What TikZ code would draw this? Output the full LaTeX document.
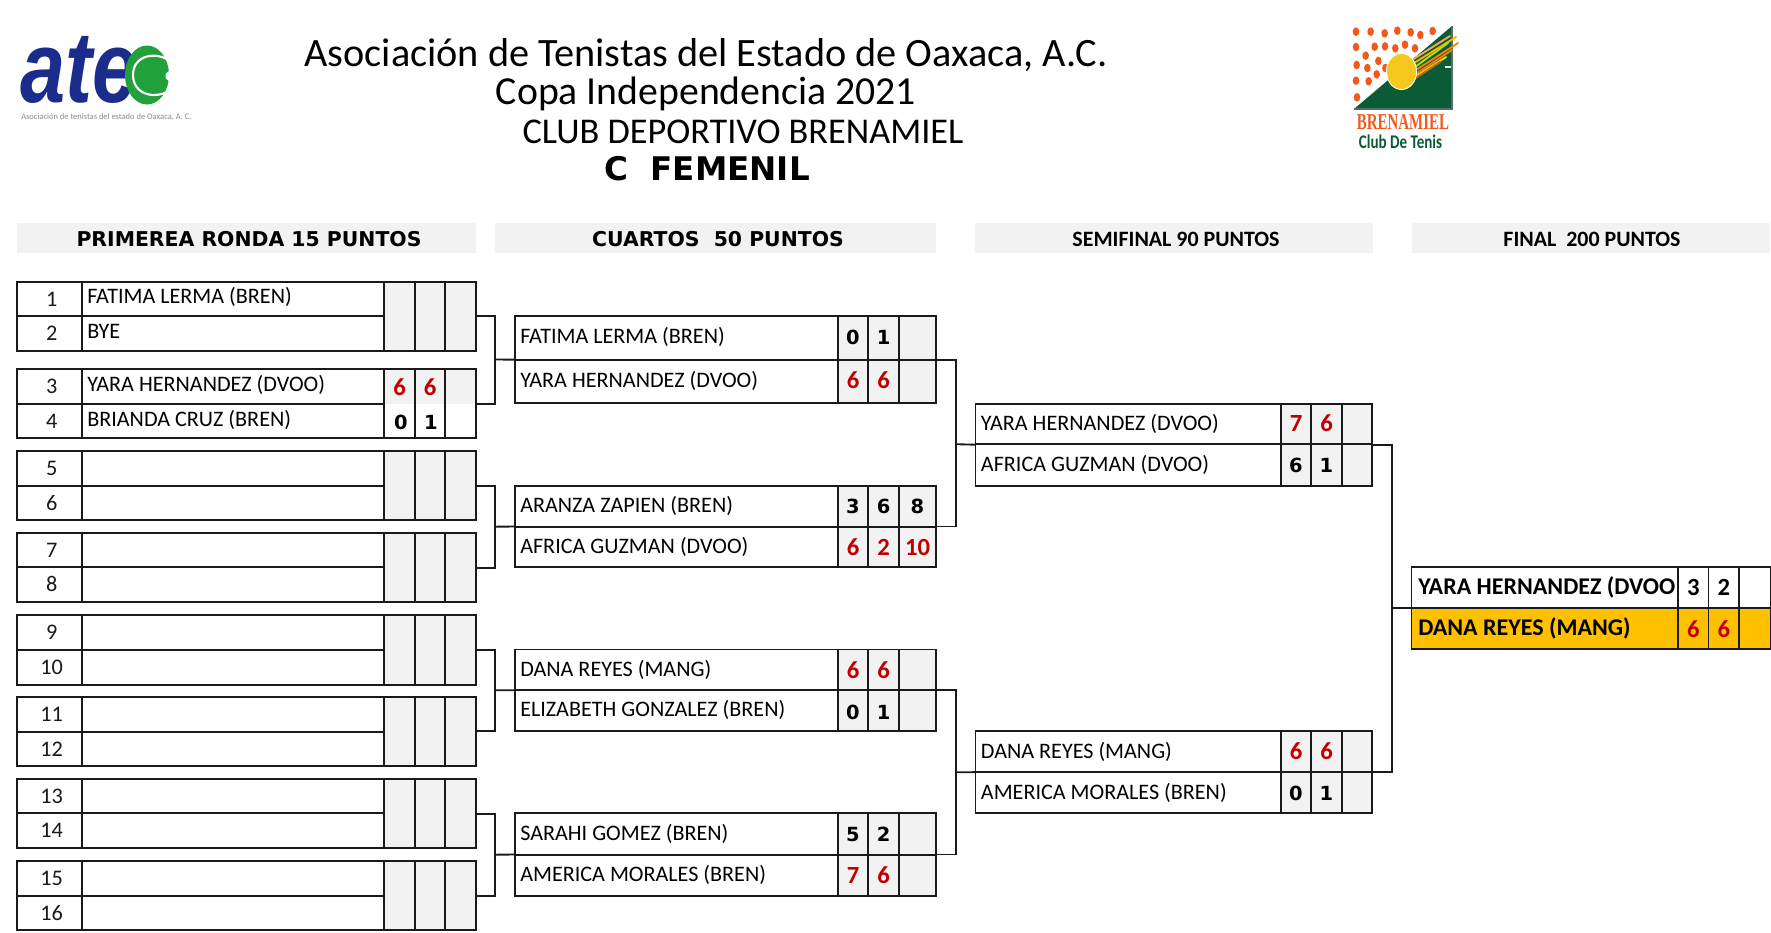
\documentclass[tikz,border=0pt]{standalone}
\usepackage{fontspec}
\setmainfont{Carlito}
\newfontfamily\dvs{DejaVu Sans}
\newfontfamily\lib{Liberation Sans}
\newfontfamily\libs{Liberation Serif}
\definecolor{inkc}{HTML}{1A1A1A}
\definecolor{grayc}{HTML}{F2F2F2}
\definecolor{barc}{HTML}{F2F2F2}
\definecolor{goldc}{HTML}{FFC000}
\definecolor{redc}{HTML}{C00000}
\definecolor{orc}{HTML}{F4591C}
\definecolor{courtc}{HTML}{0B5C36}
\definecolor{atec}{HTML}{1A2C8C}
\definecolor{ballc}{HTML}{22A03C}
\definecolor{sunc}{HTML}{F6C81E}
\tikzset{
  cellb/.style={draw=inkc,line width=1.25pt,inner sep=0pt,outer sep=0pt,rectangle},
  barb/.style={fill=barc,inner sep=0pt,outer sep=0pt,rectangle},
  gcell/.style={fill=grayc},
  ycell/.style={fill=goldc},
  wcell/.style={fill=white},
  numt/.style={anchor=base,inner sep=0pt,font=\fontsize{16.7pt}{18pt}\selectfont,text=inkc},
  namet/.style={anchor=base west,inner sep=0pt,yshift=-0.5pt,font=\fontsize{16.6pt}{18pt}\selectfont,text=black},
  bigname/.style={anchor=base west,inner sep=0pt,font=\fontsize{18pt}{20pt}\selectfont\bfseries,text=black},
  redt/.style={anchor=base,inner sep=0pt,yshift=-0.4pt,font=\fontsize{18.5pt}{18pt}\selectfont\bfseries,text=redc},
  blkt/.style={anchor=base,inner sep=0pt,font=\fontsize{14.6pt}{18pt}\selectfont\dvs\bfseries,text=black},
  blkc/.style={anchor=base,inner sep=0pt,font=\fontsize{18.5pt}{18pt}\selectfont\bfseries,text=black},
  headv/.style={anchor=base,inner sep=0pt,font=\fontsize{15.3pt}{18pt}\selectfont\dvs\bfseries,text=black},
  headc/.style={anchor=base,inner sep=0pt,font=\fontsize{16.45pt}{18pt}\selectfont\bfseries,text=black},
  titlet/.style={anchor=base,inner sep=0pt,font=\fontsize{30.2pt}{32pt}\selectfont,text=black},
  link/.style={draw=inkc,line width=1.4pt},
  dotb/.style={fill=orc,draw=none},
}
\newcommand\cellbox[6]{\node[cellb,#6,minimum width={(#4-#2)*0.75pt},minimum height={(#5-#3)*0.75pt}] (#1) at ({(#2+#4)/2},{(#3+#5)/2}) {};}
\newcommand\barbox[5]{\node[barb,minimum width={(#4-#2)*0.75pt},minimum height={(#5-#3)*0.75pt}] (#1) at ({(#2+#4)/2},{(#3+#5)/2}) {};}
\newcommand\firstpair[6]{%
  \cellbox{#1nA}{17}{#2}{82}{#3}{wcell}
  \cellbox{#1nB}{17}{#3}{82}{#4}{wcell}
  \cellbox{#1tA}{82}{#2}{384}{#3}{wcell}
  \cellbox{#1tB}{82}{#3}{384}{#4}{wcell}
  \cellbox{#1sa}{384}{#2}{415}{#4}{gcell}
  \cellbox{#1sb}{415}{#2}{445}{#4}{gcell}
  \cellbox{#1sc}{445}{#2}{476}{#4}{gcell}
  \node[cellb,minimum width={459*0.75pt},minimum height={(#4-#2)*0.75pt}] (#1) at (246.5,{(#2+#4)/2}) {};
  \node[numt] (#1numA) at (51.7,{#2+24.3}) {#5};
  \node[numt] (#1numB) at (51.7,{#3+24.3}) {#6};
}
\newcommand\match[9]{%
  \cellbox{#1tA}{#2}{#7}{#3}{#8}{wcell}
  \cellbox{#1tB}{#2}{#8}{#3}{#9}{wcell}
  \matchrest{#1}{#2}{#3}{#4}{#5}{#6}{#7}{#8}{#9}
}
\newcommand\matchrest[9]{%
  \cellbox{#1saA}{#3}{#7}{#4}{#8}{gcell}
  \cellbox{#1sbA}{#4}{#7}{#5}{#8}{gcell}
  \cellbox{#1scA}{#5}{#7}{#6}{#8}{gcell}
  \cellbox{#1saB}{#3}{#8}{#4}{#9}{gcell}
  \cellbox{#1sbB}{#4}{#8}{#5}{#9}{gcell}
  \cellbox{#1scB}{#5}{#8}{#6}{#9}{gcell}
  \node[cellb,minimum width={(#6-#2)*0.75pt},minimum height={(#9-#7)*0.75pt}] (#1) at ({(#2+#6)/2},{(#7+#9)/2}) {};
}
\begin{document}
\begin{tikzpicture}[x=0.75pt,y=-0.75pt]
\useasboundingbox (0,0) rectangle (1771,932);
\fill[white] (0,0) rectangle (1771,932);

% titles
\node[titlet] (t1) at (706,66.5) {Asociación de Tenistas del Estado de Oaxaca, A.C.};
\node[titlet,font=\fontsize{29.8pt}{32pt}\selectfont] (t2) at (706,104) {Copa Independencia 2021};
\node[titlet,font=\fontsize{27.2pt}{28pt}\selectfont] (t3) at (743,143) {CLUB DEPORTIVO BRENAMIEL};
\node[titlet,font=\fontsize{24.4pt}{28pt}\selectfont\dvs\bfseries] (t4) at (707,180) {C~~FEMENIL};

% ATEC logo
\node[anchor=base west,inner sep=0pt,xscale=0.8,text=atec,font=\fontsize{76pt}{80pt}\selectfont\lib\bfseries\itshape] (atetxt) at (20,102) {ate};
\fill[ballc] (147,75) ellipse [x radius=22,y radius=29.5];
\draw[white,line width=1.6pt] (170,61) .. controls (156,51) and (133,55) .. (133,75) .. controls (133,95) and (156,100) .. (170,90);
\fill[white] (170,70) -- (165.5,74) -- (165.5,78) -- (170,82) -- cycle;
\node[anchor=base west,inner sep=0pt,text=black!45,font=\fontsize{6.35pt}{7pt}\selectfont] (atesub) at (21,119) {Asociación de tenistas del estado de Oaxaca, A. C.};

% Brenamiel logo
\fill[courtc] (1354,109) -- (1452,26) -- (1452,109) -- cycle;
\draw[gray!60!courtc,line width=0.8pt] (1354,109) -- (1452,109) -- (1452,26);
\draw[white!85!gray,line width=0.8pt] (1445,67) -- (1451,67);
\foreach \ax/\ay in {168/95,212/95,254/100,292/92,332/97,361/105,398/93,168/141,224/140,255/139,286/145,315/134,345/145,197/167,235/183,170/195,202/204,256/204,230/223,168/242,206/244,171/292}
  \fill[dotb] ({1300+\ax/3},{\ay/3}) ellipse [x radius=3.3,y radius=4.3];
\foreach \sx/\sy/\ex/\ey/\cc in {
  1412/60/1450/36/orange!70!white,1414/63/1456/37/orange!60!yellow,1415/67/1448/43/yellow!70!green,1416/70/1458/43/orange,1417/73/1452/50/orc!80!yellow,1416/76/1446/57/yellow!70!orange,1414/79/1440/62/orange!80!black}
  \draw[\cc,line width=1.4pt,line cap=round] (\sx,\sy) -- (\ex,\ey);
\fill[white] (1401.5,71.5) ellipse [x radius=15.5,y radius=18.5];
\fill[sunc] (1401.5,71.5) ellipse [x radius=14.5,y radius=17.5];
\node[inner sep=0pt,xscale=0.66,text=orc,font=\fontsize{17pt}{19pt}\selectfont\libs\bfseries] (brn) at (1403,122.5) {BRENAMIEL};
\node[inner sep=0pt,xscale=0.78,text=courtc,font=\fontsize{14.5pt}{15pt}\selectfont\bfseries] (club) at (1400.5,142) {Club De Tenis};

% header bars
\barbox{h1}{17}{223}{476}{252.7}
\barbox{h2}{495}{223}{936}{252.7}
\barbox{h3}{975}{223}{1372.7}{252.7}
\barbox{h4}{1412}{223}{1770}{252.7}
\node[headv] (h1t) at (249,246.5) {PRIMEREA RONDA 15 PUNTOS};
\node[headv] (h2t) at (718,246.5) {CUARTOS~~50 PUNTOS};
\node[headc] (h3t) at (1176,246) {SEMIFINAL 90 PUNTOS};
\node[headc] (h4t) at (1592,246) {FINAL~~200 PUNTOS};

% first round
\firstpair{pa}{281.7}{315.7}{351}{1}{2}
\firstpair{pb}{369}{403.7}{438.3}{3}{4}
\firstpair{pc}{451}{485.7}{520.3}{5}{6}
\firstpair{pd}{533}{567.3}{602.3}{7}{8}
\firstpair{pe}{615}{649.7}{684.7}{9}{10}
\firstpair{pf}{696.7}{731.7}{766}{11}{12}
\firstpair{pg}{779}{813.3}{848.3}{13}{14}
\firstpair{ph}{861}{895.7}{930.3}{15}{16}
% white lower part of pair b scores
\cellbox{pbsa2}{384}{403.7}{415}{438.3}{wcell,draw=none}
\cellbox{pbsb2}{415}{403.7}{445}{438.3}{wcell,draw=none}
\cellbox{pbsc2}{445}{403.7}{476}{438.3}{wcell,draw=none}
\draw[cellb] (384,369) -- (384,438.3) (415,369) -- (415,438.3) (445,369) -- (445,438.3) (476,369) -- (476,438.3) (384,438.3) -- (476,438.3);
\node[namet] (n1) at (87,303.3) {FATIMA LERMA (BREN)};
\node[namet] (n2) at (87,338.3) {BYE};
\node[namet] (n3) at (87,390.7) {YARA HERNANDEZ (DVOO)};
\node[namet] (n4) at (87,425.7) {BRIANDA CRUZ (BREN)};
\node[redt] (d1) at (399.5,395) {6};
\node[redt] (d2) at (430,395) {6};
\node[blkt] (d3) at (401,429) {0};
\node[blkt] (d4) at (431,429) {1};

% quarter finals
\match{qa}{514.7}{837.7}{868.3}{899}{936}{316}{359.7}{403.3}
\match{qb}{514.7}{837.7}{868.3}{899}{936}{485.7}{526.7}{567.3}
\match{qc}{514.7}{837.7}{868.3}{899}{936}{649.5}{690.3}{731}
\match{qd}{514.7}{837.7}{868.3}{899}{936}{813}{854.7}{896}
\node[namet] (qn1) at (520,342.7) {FATIMA LERMA (BREN)};
\node[namet] (qn2) at (520,386.7) {YARA HERNANDEZ (DVOO)};
\node[namet] (qn3) at (520,511.5) {ARANZA ZAPIEN (BREN)};
\node[namet] (qn4) at (520,552.7) {AFRICA GUZMAN (DVOO)};
\node[namet] (qn5) at (520,675.5) {DANA REYES (MANG)};
\node[namet] (qn6) at (520,716) {ELIZABETH GONZALEZ (BREN)};
\node[namet] (qn7) at (520,839.5) {SARAHI GOMEZ (BREN)};
\node[namet] (qn8) at (520,880.5) {AMERICA MORALES (BREN)};
\node[blkt] at (853,344.7) {0}; \node[blkt] at (883.7,344.7) {1};
\node[redt] at (853,388.3) {6}; \node[redt] at (883.7,388.3) {6};
\node[blkt] at (853,513.3) {3}; \node[blkt] at (883.7,513.3) {6}; \node[blkt] at (917.5,513.3) {8};
\node[redt] at (853,555) {6}; \node[redt] at (883.7,555) {2}; \node[redt] at (917.5,555) {10};
\node[redt] at (853,678) {6}; \node[redt] at (883.7,678) {6};
\node[blkt] at (853,719) {0}; \node[blkt] at (883.7,719) {1};
\node[blkt] at (853,841.5) {5}; \node[blkt] at (883.7,841.5) {2};
\node[redt] at (853,883) {7}; \node[redt] at (883.7,883) {6};

% semifinals
\match{sa}{975.5}{1280.7}{1311.3}{1341.8}{1372.3}{403.7}{444}{485.7}
\match{sb}{975.5}{1280.7}{1311.3}{1341.8}{1372.3}{731.3}{772.3}{813}
\node[namet] (sn1) at (980.7,430) {YARA HERNANDEZ (DVOO)};
\node[namet] (sn2) at (980.7,471) {AFRICA GUZMAN (DVOO)};
\node[namet] (sn3) at (980.7,757.5) {DANA REYES (MANG)};
\node[namet] (sn4) at (980.7,798.5) {AMERICA MORALES (BREN)};
\node[redt] at (1296,431) {7}; \node[redt] at (1326.5,431) {6};
\node[blkt] at (1296,472.3) {6}; \node[blkt] at (1326.5,472.3) {1};
\node[redt] at (1296,759) {6}; \node[redt] at (1326.5,759) {6};
\node[blkt] at (1296,800) {0}; \node[blkt] at (1326.5,800) {1};

% final
\cellbox{ftA}{1411.6}{567.3}{1678}{608.3}{wcell}
\cellbox{ftB}{1411.6}{608.3}{1678}{649.3}{ycell}
\cellbox{fsaA}{1678}{567.3}{1708.6}{608.3}{wcell}
\cellbox{fsbA}{1708.6}{567.3}{1739}{608.3}{wcell}
\cellbox{fscA}{1739}{567.3}{1771}{608.3}{wcell}
\cellbox{fsaB}{1678}{608.3}{1708.6}{649.3}{ycell}
\cellbox{fsbB}{1708.6}{608.3}{1739}{649.3}{ycell}
\cellbox{fscB}{1739}{608.3}{1771}{649.3}{ycell}
\node[cellb,minimum width={359.4*0.75pt},minimum height={82*0.75pt}] (fin) at (1591.3,608.3) {};
\node[bigname] (fn1) at (1418,594) {YARA HERNANDEZ (DVOO};
\node[bigname] (fn2) at (1418,635) {DANA REYES (MANG)};
\node[blkc] at (1693.3,595.7) {3}; \node[blkc] at (1723.8,595.7) {2};
\node[redt] at (1693.3,636.7) {6}; \node[redt] at (1723.8,636.7) {6};

% connectors
\coordinate (ja) at (495,359.5);
\coordinate (jb) at (495,526.7);
\coordinate (jc) at (495,690.3);
\coordinate (jd) at (495,854.7);
\coordinate (ke) at (955.7,444.2);
\coordinate (kf) at (955.7,772.3);
\coordinate (lg) at (1392,608.3);
\draw[link] (pa.east) -| (ja) |- (pb.east);
\draw[link] (pc.east) -| (jb) |- (pd.east);
\draw[link] (pe.east) -| (jc) |- (pf.east);
\draw[link] (pg.east) -| (jd) |- (ph.east);
\draw[link] (ja) -- (qa.west);
\draw[link] (jb) -- (qb.west);
\draw[link] (jc) -- (qc.west);
\draw[link] (jd) -- (qd.west);
\draw[link] (qa.east) -| (ke) |- (qb.east);
\draw[link] (qc.east) -| (kf) |- (qd.east);
\draw[link] (ke) -- (sa.west);
\draw[link] (kf) -- (sb.west);
\draw[link] (sa.east) -| (lg) |- (sb.east);
\draw[link] (lg) -- (fin.west);
\end{tikzpicture}
\end{document}
